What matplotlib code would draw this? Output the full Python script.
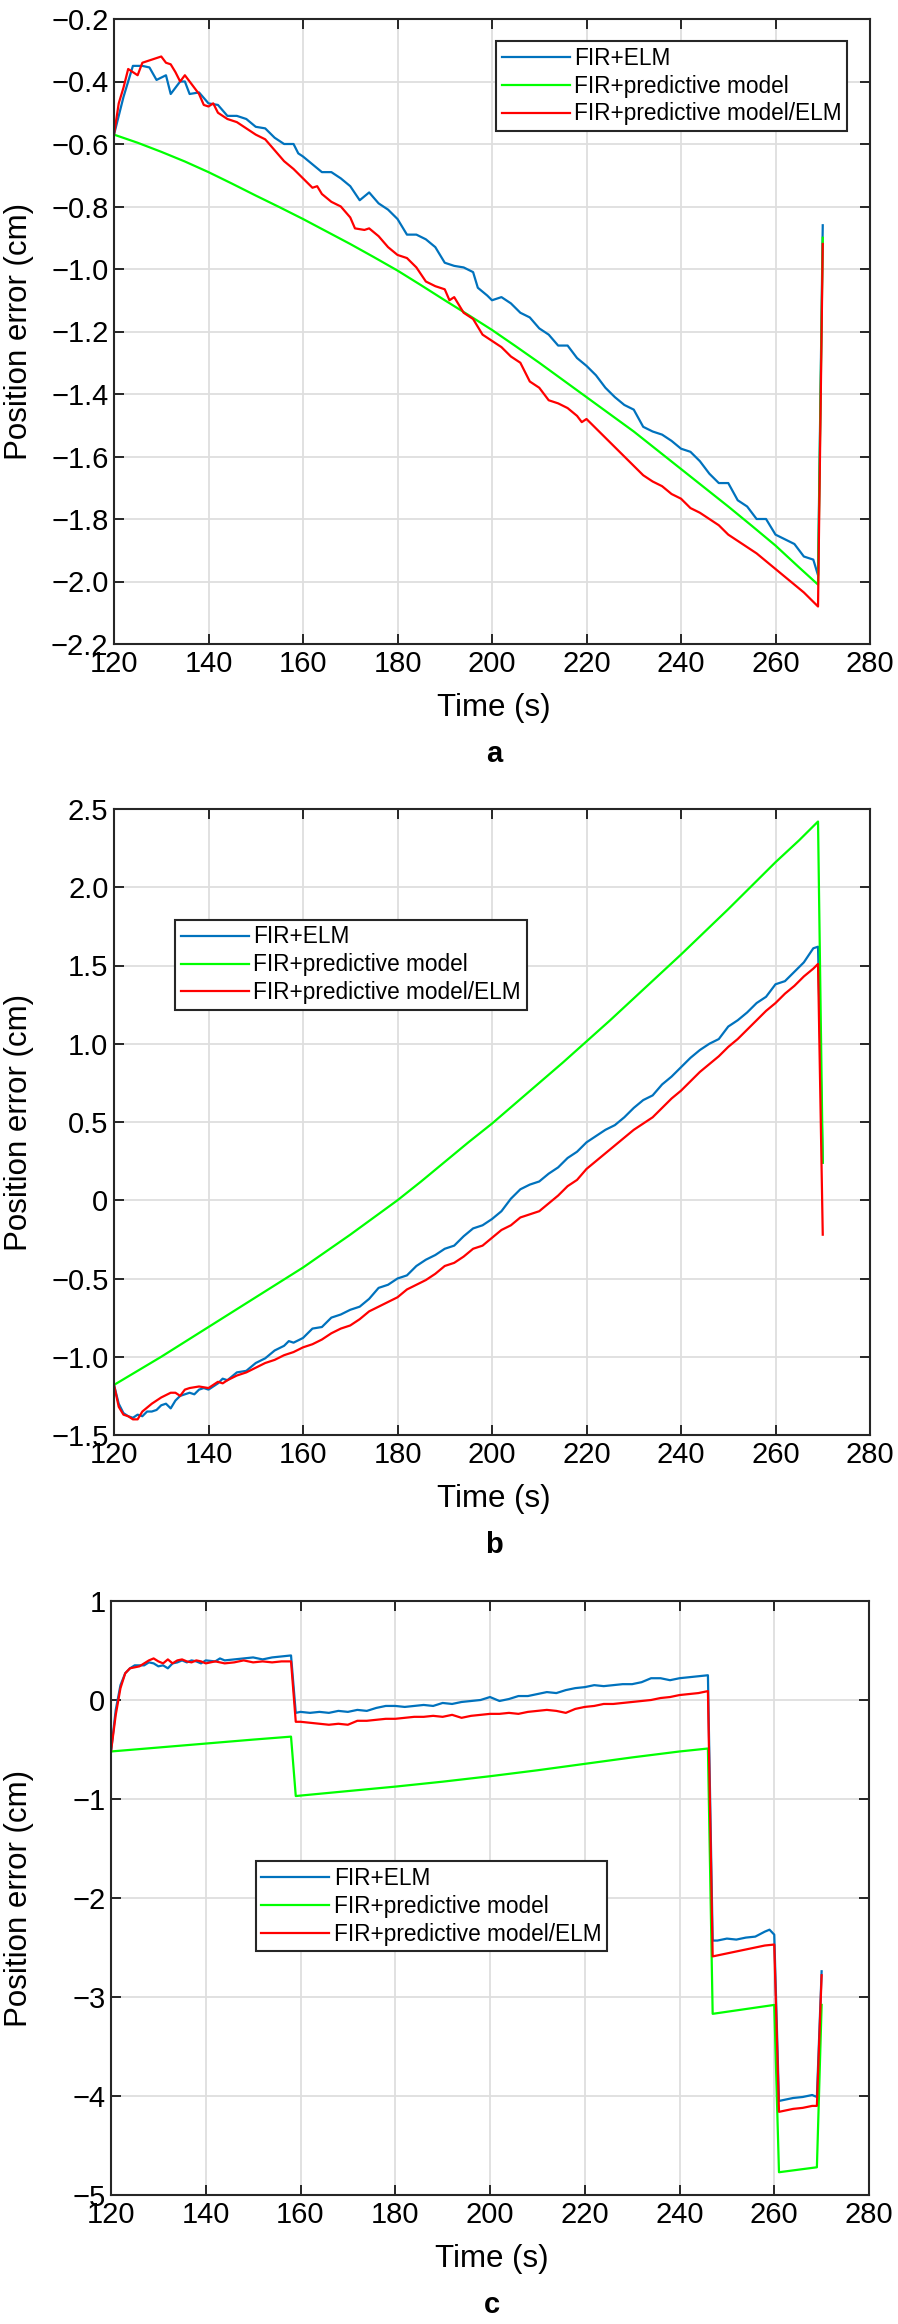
import matplotlib.pyplot as plt
import numpy as np

plt.rcParams['font.family'] = ['Liberation Sans', 'DejaVu Sans']

# colours (matlab-ish)
BLUE = '#0072BD'
GREEN = '#00FF00'
RED = '#FF0000'
labels = ['FIR+ELM', 'FIR+predictive model', 'FIR+predictive model/ELM']

# ---------------- panel a ----------------
a_t_blue = [120, 122, 124, 126, 127.5, 129, 131, 132, 134, 135, 136, 138, 140, 142, 144, 146, 148, 150,
            152, 154, 156, 158, 159, 160, 162, 164, 166, 168, 170, 172, 174, 176, 178, 180, 182, 184,
            186, 188, 190, 192, 194, 196, 197, 199, 200, 202, 204, 206, 208, 210, 212, 214, 216, 218,
            220, 222, 224, 226, 228, 230, 232, 234, 236, 238, 240, 242, 244, 246, 248, 250, 252, 254,
            256, 258, 260, 262, 264, 266, 268, 269, 270]
a_blue = [-0.57, -0.45, -0.35, -0.35, -0.355, -0.395, -0.38, -0.44, -0.40, -0.40, -0.44, -0.435, -0.47,
          -0.475, -0.51, -0.51, -0.52, -0.545, -0.55, -0.58, -0.60, -0.60, -0.63, -0.64, -0.665, -0.69,
          -0.69, -0.71, -0.735, -0.78, -0.755, -0.79, -0.81, -0.84, -0.89, -0.89, -0.905, -0.93, -0.98,
          -0.99, -0.995, -1.01, -1.06, -1.085, -1.10, -1.09, -1.11, -1.14, -1.155, -1.19, -1.21, -1.245,
          -1.245, -1.285, -1.31, -1.34, -1.38, -1.41, -1.435, -1.45, -1.505, -1.52, -1.53, -1.55, -1.575,
          -1.585, -1.615, -1.655, -1.685, -1.685, -1.74, -1.76, -1.80, -1.80, -1.85, -1.865, -1.88, -1.92,
          -1.93, -1.98, -0.86]

a_t_green = [120, 125, 130, 135, 140, 145, 150, 155, 160, 165, 170, 175, 180, 185, 190, 195, 200, 205,
             210, 215, 220, 225, 230, 235, 240, 245, 250, 255, 260, 265, 269, 270]
a_green = [-0.57, -0.596, -0.625, -0.656, -0.69, -0.727, -0.765, -0.802, -0.84, -0.88, -0.92, -0.962,
           -1.005, -1.052, -1.10, -1.147, -1.195, -1.247, -1.30, -1.355, -1.41, -1.465, -1.52, -1.58,
           -1.64, -1.70, -1.76, -1.822, -1.885, -1.955, -2.01, -0.90]

a_t_red = [120, 121, 122, 123, 125, 126, 128, 130, 131, 132, 133, 134, 135, 136, 138, 139, 140, 141, 142,
           144, 146, 148, 150, 152, 154, 156, 158, 160, 162, 163, 164, 166, 168, 170, 171, 173, 174, 176,
           178, 180, 182, 184, 186, 188, 190, 191, 192, 194, 196, 198, 200, 202, 204, 206, 208, 210, 212,
           214, 216, 218, 219, 220, 222, 224, 226, 228, 230, 232, 234, 236, 238, 240, 242, 244, 246, 248,
           250, 252, 254, 256, 258, 260, 262, 264, 266, 268, 269, 270]
a_red = [-0.57, -0.47, -0.42, -0.36, -0.38, -0.34, -0.33, -0.32, -0.34, -0.345, -0.37, -0.40, -0.38, -0.40,
         -0.44, -0.475, -0.48, -0.47, -0.50, -0.52, -0.53, -0.55, -0.57, -0.585, -0.62, -0.655, -0.68,
         -0.71, -0.74, -0.735, -0.76, -0.785, -0.80, -0.835, -0.87, -0.875, -0.87, -0.895, -0.93, -0.955,
         -0.965, -0.995, -1.04, -1.055, -1.065, -1.10, -1.09, -1.14, -1.16, -1.21, -1.23, -1.25, -1.28,
         -1.30, -1.36, -1.38, -1.42, -1.43, -1.445, -1.47, -1.49, -1.48, -1.51, -1.54, -1.57, -1.60, -1.63,
         -1.66, -1.68, -1.695, -1.72, -1.735, -1.765, -1.78, -1.80, -1.82, -1.85, -1.87, -1.89, -1.91,
         -1.935, -1.96, -1.985, -2.01, -2.035, -2.065, -2.08, -0.92]

a_yticks = [-2.2, -2.0, -1.8, -1.6, -1.4, -1.2, -1.0, -0.8, -0.6, -0.4, -0.2]
a_yticklabels = ['\u22122.2', '\u22122.0', '\u22121.8', '\u22121.6', '\u22121.4', '\u22121.2', '\u22121.0',
                 '\u22120.8', '\u22120.6', '\u22120.4', '\u22120.2']

# ---------------- panel b ----------------
b_t_blue = [120, 121, 122, 123, 124, 125, 126, 127, 128, 129, 130, 131, 132, 133, 134, 135, 136, 137, 138,
            139, 140, 142, 143, 144, 146, 148, 150, 152, 154, 156, 157, 158, 160, 162, 164, 166, 168, 170,
            172, 174, 176, 178, 180, 182, 184, 186, 188, 190, 192, 194, 196, 198, 200, 202, 204, 206, 208,
            210, 212, 214, 216, 218, 220, 222, 224, 226, 228, 230, 232, 234, 236, 238, 240, 242, 244, 246,
            248, 250, 252, 254, 256, 258, 260, 262, 264, 266, 268, 269, 270]
b_blue = [-1.18, -1.30, -1.36, -1.38, -1.39, -1.37, -1.38, -1.35, -1.35, -1.34, -1.31, -1.30, -1.33, -1.28,
          -1.25, -1.24, -1.23, -1.24, -1.21, -1.20, -1.21, -1.17, -1.14, -1.15, -1.10, -1.09, -1.04, -1.01,
          -0.96, -0.93, -0.90, -0.91, -0.88, -0.82, -0.81, -0.75, -0.73, -0.70, -0.68, -0.63, -0.56, -0.54,
          -0.50, -0.48, -0.42, -0.38, -0.35, -0.31, -0.29, -0.23, -0.18, -0.16, -0.12, -0.07, 0.01, 0.07,
          0.10, 0.12, 0.17, 0.21, 0.27, 0.31, 0.37, 0.41, 0.45, 0.48, 0.53, 0.59, 0.64, 0.67, 0.74, 0.79,
          0.85, 0.91, 0.96, 1.00, 1.03, 1.11, 1.15, 1.20, 1.26, 1.30, 1.38, 1.40, 1.46, 1.52, 1.61, 1.62, 0.24]

b_t_green = [120, 125, 130, 135, 140, 145, 150, 155, 160, 165, 170, 175, 180, 185, 190, 195, 200, 205,
             210, 215, 220, 225, 230, 235, 240, 245, 250, 255, 260, 265, 269, 270]
b_green = [-1.18, -1.09, -1.00, -0.905, -0.81, -0.715, -0.62, -0.525, -0.43, -0.325, -0.22, -0.11, 0.00,
           0.12, 0.245, 0.37, 0.49, 0.62, 0.75, 0.88, 1.015, 1.15, 1.29, 1.43, 1.57, 1.715, 1.86, 2.01,
           2.16, 2.30, 2.42, 0.24]

b_t_red = [120, 121, 122, 123, 124, 125, 126, 128, 130, 132, 133, 134, 135, 136, 138, 140, 142, 143, 144,
           146, 148, 150, 152, 154, 156, 158, 160, 162, 164, 166, 168, 170, 172, 174, 176, 178, 180, 182,
           184, 186, 188, 190, 192, 194, 196, 198, 200, 202, 204, 206, 208, 210, 212, 214, 216, 218, 220,
           222, 224, 226, 228, 230, 232, 234, 236, 238, 240, 242, 244, 246, 248, 250, 252, 254, 256, 258,
           260, 262, 264, 266, 268, 269, 270]
b_red = [-1.18, -1.32, -1.37, -1.38, -1.40, -1.40, -1.35, -1.30, -1.26, -1.23, -1.23, -1.25, -1.21, -1.20,
         -1.19, -1.20, -1.16, -1.17, -1.15, -1.12, -1.10, -1.07, -1.04, -1.02, -0.99, -0.97, -0.94, -0.92,
         -0.89, -0.85, -0.82, -0.80, -0.76, -0.71, -0.68, -0.65, -0.62, -0.57, -0.54, -0.51, -0.47, -0.42,
         -0.40, -0.36, -0.31, -0.29, -0.24, -0.19, -0.16, -0.11, -0.09, -0.07, -0.02, 0.03, 0.09, 0.13,
         0.20, 0.25, 0.30, 0.35, 0.40, 0.45, 0.49, 0.53, 0.59, 0.65, 0.70, 0.76, 0.82, 0.87, 0.92, 0.98,
         1.03, 1.09, 1.15, 1.21, 1.26, 1.32, 1.37, 1.43, 1.48, 1.51, -0.22]

b_yticks = [-1.5, -1.0, -0.5, 0, 0.5, 1.0, 1.5, 2.0, 2.5]
b_yticklabels = ['\u22121.5', '\u22121.0', '\u22120.5', '0', '0.5', '1.0', '1.5', '2.0', '2.5']

# ---------------- panel c ----------------
c_t_blue = [120, 121, 122, 123, 124, 125, 126, 127, 128, 129, 130, 131, 132, 133, 134, 135, 136, 137, 138,
            139, 140, 142, 143, 144, 146, 148, 150, 152, 154, 156, 158, 159, 160, 162, 164, 166, 168, 170,
            172, 174, 176, 178, 180, 182, 184, 186, 188, 190, 192, 194, 196, 198, 200, 202, 204, 206, 208,
            210, 212, 214, 216, 218, 220, 222, 224, 226, 228, 230, 232, 234, 236, 238, 240, 242, 244, 246,
            247, 248, 250, 252, 254, 256, 258, 259, 260, 261, 262, 264, 266, 268, 269, 270]
c_blue = [-0.52, -0.10, 0.15, 0.27, 0.32, 0.35, 0.35, 0.35, 0.38, 0.37, 0.34, 0.35, 0.32, 0.37, 0.38, 0.40,
          0.38, 0.40, 0.39, 0.37, 0.40, 0.39, 0.42, 0.40, 0.41, 0.42, 0.43, 0.41, 0.43, 0.44, 0.45, -0.13,
          -0.12, -0.13, -0.12, -0.13, -0.11, -0.12, -0.10, -0.11, -0.08, -0.06, -0.06, -0.07, -0.06, -0.05,
          -0.06, -0.03, -0.04, -0.02, -0.01, 0.00, 0.03, -0.01, 0.01, 0.04, 0.04, 0.06, 0.08, 0.07, 0.10,
          0.12, 0.13, 0.15, 0.14, 0.15, 0.16, 0.16, 0.18, 0.22, 0.22, 0.20, 0.22, 0.23, 0.24, 0.25, -2.43,
          -2.43, -2.41, -2.42, -2.40, -2.39, -2.34, -2.32, -2.37, -4.05, -4.04, -4.02, -4.01, -3.99, -4.01,
          -2.74]

c_t_green = [120, 130, 140, 150, 158, 159, 170, 180, 190, 200, 210, 220, 230, 240, 246, 247, 260, 261,
             269, 270]
c_green = [-0.52, -0.48, -0.44, -0.40, -0.37, -0.97, -0.92, -0.875, -0.825, -0.77, -0.71, -0.645, -0.58,
           -0.52, -0.49, -3.17, -3.08, -4.77, -4.72, -3.08]

c_t_red = [120, 121, 122, 123, 124, 125, 126, 127, 128, 129, 130, 131, 132, 133, 134, 135, 136, 137, 138,
           139, 140, 142, 144, 146, 148, 150, 152, 154, 156, 158, 159, 160, 162, 164, 166, 168, 170, 172,
           174, 176, 178, 180, 182, 184, 186, 188, 190, 192, 194, 196, 198, 200, 202, 204, 206, 208, 210,
           212, 214, 216, 218, 220, 222, 224, 226, 228, 230, 232, 234, 236, 238, 240, 242, 244, 246, 247,
           248, 250, 252, 254, 256, 258, 260, 261, 262, 264, 266, 268, 269, 270]
c_red = [-0.52, -0.15, 0.12, 0.27, 0.32, 0.33, 0.34, 0.37, 0.40, 0.42, 0.39, 0.37, 0.41, 0.37, 0.40, 0.41,
         0.39, 0.38, 0.40, 0.39, 0.37, 0.39, 0.37, 0.38, 0.40, 0.38, 0.39, 0.38, 0.39, 0.39, -0.22, -0.22,
         -0.23, -0.24, -0.25, -0.24, -0.25, -0.21, -0.21, -0.20, -0.19, -0.19, -0.18, -0.17, -0.17, -0.16,
         -0.17, -0.15, -0.18, -0.16, -0.15, -0.14, -0.14, -0.13, -0.14, -0.12, -0.11, -0.10, -0.11, -0.13,
         -0.09, -0.07, -0.06, -0.04, -0.04, -0.03, -0.02, -0.01, 0.00, 0.02, 0.03, 0.05, 0.06, 0.07, 0.09,
         -2.59, -2.58, -2.56, -2.54, -2.52, -2.50, -2.48, -2.47, -4.16, -4.15, -4.13, -4.12, -4.10, -4.10,
         -2.78]

c_yticks = [-5, -4, -3, -2, -1, 0, 1]
c_yticklabels = ['\u22125', '\u22124', '\u22123', '\u22122', '\u22121', '0', '1']

xticks = [120, 140, 160, 180, 200, 220, 240, 260, 280]

W, H = 898, 2324
fig = plt.figure(figsize=(W / 100, H / 100), dpi=100)

# axes boxes in pixels: left, top, right, bottom
boxes = [(114, 19, 870, 644), (114, 809, 870, 1435), (111, 1601, 869, 2195)]
panels = [
    (a_t_blue, a_blue, a_t_green, a_green, a_t_red, a_red, (-2.2, -0.2), a_yticks, a_yticklabels,
     dict(loc='upper right', bbox_to_anchor=(0.97, 0.965)), 'a'),
    (b_t_blue, b_blue, b_t_green, b_green, b_t_red, b_red, (-1.5, 2.5), b_yticks, b_yticklabels,
     dict(loc='upper left', bbox_to_anchor=(0.081, 0.823)), 'b'),
    (c_t_blue, c_blue, c_t_green, c_green, c_t_red, c_red, (-5, 1), c_yticks, c_yticklabels,
     dict(loc='upper left', bbox_to_anchor=(0.191, 0.562)), 'c'),
]

for (l, t, r, b), p in zip(boxes, panels):
    tb, yb, tg, yg, tr, yr, ylim, yt, ytl, legkw, letter = p
    ax = fig.add_axes([l / W, 1 - b / H, (r - l) / W, (b - t) / H])
    ax.plot(tb, yb, color=BLUE, lw=1.6, label=labels[0])
    ax.plot(tg, yg, color=GREEN, lw=1.6, label=labels[1])
    ax.plot(tr, yr, color=RED, lw=1.6, label=labels[2])
    ax.set_xlim(120, 280)
    ax.set_ylim(*ylim)
    ax.set_xticks(xticks)
    ax.set_xticklabels([str(v) for v in xticks])
    ax.set_yticks(yt)
    ax.set_yticklabels(ytl)
    ax.grid(True, color='#dedede', lw=1.3)
    ax.set_axisbelow(True)
    ax.tick_params(direction='in', length=7, width=1.4, top=True, right=True,
                   labelsize=21, colors='#262626', labelcolor='black', pad=4)
    for s in ax.spines.values():
        s.set_color('#262626')
        s.set_linewidth(1.5)
    leg = ax.legend(fontsize=16.3, handlelength=3.0, handletextpad=0.2, labelspacing=0.22,
                    borderpad=0.25, borderaxespad=0, fancybox=False, framealpha=1, **legkw)
    leg.get_frame().set_edgecolor('#262626')
    leg.get_frame().set_linewidth(1.5)
    cy = (t + b) / 2
    fig.text(19 / W, 1 - cy / H, 'Position error (cm)', rotation=90, ha='center', va='center',
             fontsize=22.5)
    fig.text(((l + r) / 2 + 2) / W, 1 - (b + 64) / H, 'Time (s)', ha='center', va='center',
             fontsize=22.5)
    fig.text(((l + r) / 2 + 2) / W, 1 - (b + 110) / H, letter, ha='center', va='center', fontsize=21,
             fontweight='bold')

fig.savefig('out.png', dpi=100, facecolor='white')
